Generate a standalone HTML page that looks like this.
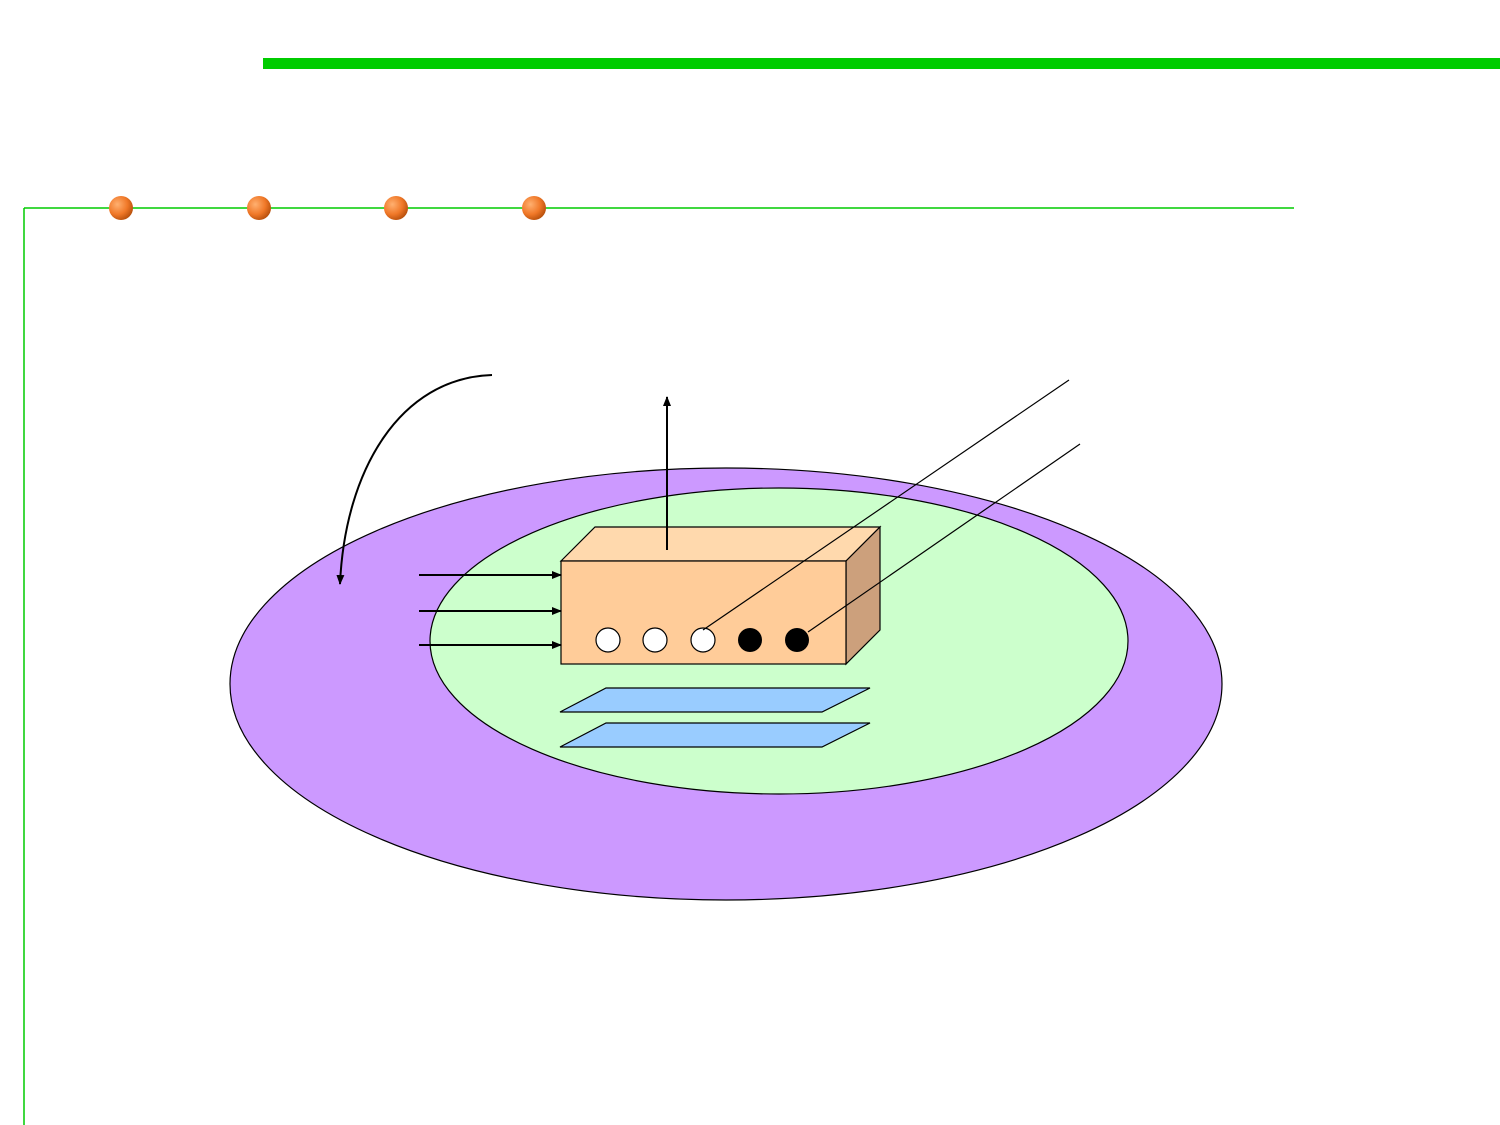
<!DOCTYPE html>
<html>
<head>
<meta charset="utf-8">
<style>
html,body{margin:0;padding:0;background:#fff;}
svg{display:block;}
</style>
</head>
<body>
<svg width="1500" height="1125" viewBox="0 0 1500 1125" xmlns="http://www.w3.org/2000/svg">
  <defs>
    <radialGradient id="og" cx="0.35" cy="0.35" r="0.7">
      <stop offset="0" stop-color="#ffb070"/>
      <stop offset="0.6" stop-color="#f07828"/>
      <stop offset="1" stop-color="#b8500c"/>
    </radialGradient>
    <marker id="ah" markerWidth="10" markerHeight="10" refX="9" refY="5" orient="auto" markerUnits="userSpaceOnUse">
      <path d="M0,1 L10,5 L0,9 Z" fill="#000"/>
    </marker>
  </defs>

  <rect x="263" y="58" width="1237" height="11" fill="#00cc00"/>
  <line x1="24" y1="208" x2="1294" y2="208" stroke="#00cc00" stroke-width="1.5"/>
  <line x1="24" y1="208" x2="24" y2="1125" stroke="#00cc00" stroke-width="1.5"/>
  <circle cx="121" cy="208" r="12" fill="url(#og)"/>
  <circle cx="259" cy="208" r="12" fill="url(#og)"/>
  <circle cx="396" cy="208" r="12" fill="url(#og)"/>
  <circle cx="534" cy="208" r="12" fill="url(#og)"/>

  <ellipse cx="726" cy="684" rx="496" ry="216" fill="#cc99ff" stroke="#000" stroke-width="1.2"/>
  <ellipse cx="779" cy="641" rx="349" ry="153" fill="#ccffcc" stroke="#000" stroke-width="1.2"/>

  <polygon points="561,561 595,527 880,527 846,561" fill="#ffd9ad" stroke="#000" stroke-width="1.2"/>
  <polygon points="846,561 880,527 880,630 846,664" fill="#cca07c" stroke="#000" stroke-width="1.2"/>
  <rect x="561" y="561" width="285" height="103" fill="#ffcc99" stroke="#000" stroke-width="1.2"/>

  <circle cx="608" cy="640" r="12" fill="#fff" stroke="#000" stroke-width="1.2"/>
  <circle cx="655" cy="640" r="12" fill="#fff" stroke="#000" stroke-width="1.2"/>
  <circle cx="703" cy="640" r="12" fill="#fff" stroke="#000" stroke-width="1.2"/>
  <circle cx="750" cy="640" r="12" fill="#000"/>
  <circle cx="797" cy="640" r="12" fill="#000"/>

  <line x1="419" y1="575" x2="561" y2="575" stroke="#000" stroke-width="2" marker-end="url(#ah)"/>
  <line x1="419" y1="611" x2="561" y2="611" stroke="#000" stroke-width="2" marker-end="url(#ah)"/>
  <line x1="419" y1="645" x2="561" y2="645" stroke="#000" stroke-width="2" marker-end="url(#ah)"/>
  <line x1="667" y1="550" x2="667" y2="397" stroke="#000" stroke-width="2" marker-end="url(#ah)"/>
  <path d="M492,375 C400,378 345,470 340,584" fill="none" stroke="#000" stroke-width="2" marker-end="url(#ah)"/>

  <line x1="703" y1="630" x2="1069" y2="380" stroke="#000" stroke-width="1.2"/>
  <line x1="808" y1="632" x2="1080" y2="444" stroke="#000" stroke-width="1.2"/>

  <polygon points="560,712 606,688 870,688 822,712" fill="#99ccff" stroke="#000" stroke-width="1.2"/>
  <polygon points="560,747 606,723 870,723 822,747" fill="#99ccff" stroke="#000" stroke-width="1.2"/>
</svg>
</body>
</html>
